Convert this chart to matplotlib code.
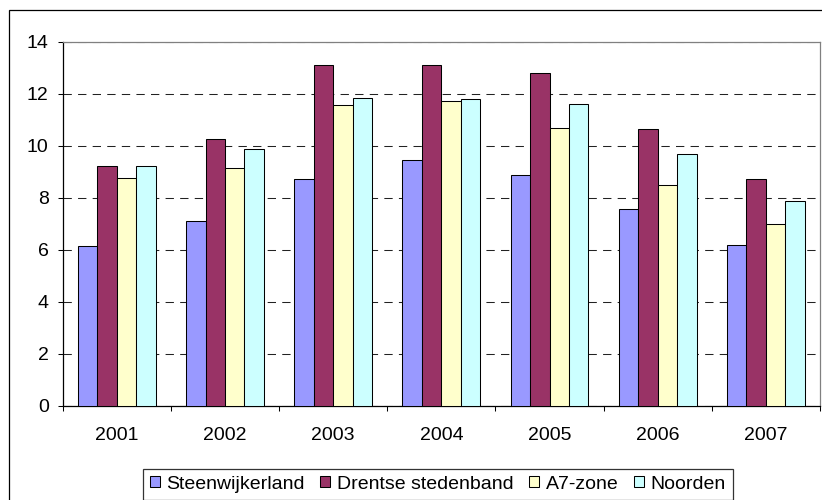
import numpy as np
import matplotlib
matplotlib.use("Agg")
import matplotlib.pyplot as plt
from matplotlib.patches import Rectangle

years = ["2001", "2002", "2003", "2004", "2005", "2006", "2007"]
series_names = ["Steenwijkerland", "Drentse stedenband", "A7-zone", "Noorden"]

steenwijkerland = [6.12, 7.10, 8.70, 9.44, 8.86, 7.57, 6.18]
drentse_stedenband = [9.21, 10.24, 13.09, 13.09, 12.81, 10.65, 8.70]
a7_zone = [8.75, 9.13, 11.55, 11.71, 10.68, 8.49, 6.98]
noorden = [9.21, 9.87, 11.83, 11.78, 11.62, 9.67, 7.88]

colors = ["#9999FF", "#993366", "#FFFFCC", "#CCFFFF"]
yticks = [0, 2, 4, 6, 8, 10, 12, 14]


def main():
    plt.rcParams["font.family"] = ["Liberation Sans", "DejaVu Sans"]
    fig = plt.figure(figsize=(8.22, 5.0), dpi=100)
    ax = fig.add_axes([62.7 / 822, 1 - 405.5 / 500, (820 - 62.7) / 822, (405.5 - 41.7) / 500])

    # outer chart frame, runs off the right and bottom edge
    fig.patches.append(Rectangle((9 / 822, -0.2), 1.2, 1 - 10 / 500 + 0.2,
                                 transform=fig.transFigure, fill=False,
                                 edgecolor="black", linewidth=0.9, zorder=0))

    x = np.arange(len(years))
    width = 0.18
    data = [steenwijkerland, drentse_stedenband, a7_zone, noorden]
    for i, (vals, name, col) in enumerate(zip(data, series_names, colors)):
        ax.bar(x + (i - 1.5) * width, vals, width, color=col, edgecolor="black",
               linewidth=0.75, label=name, zorder=3)

    ax.set_xlim(-0.5, len(years) - 0.5)
    ax.set_ylim(0, 14)
    ax.set_yticks(yticks)
    ax.set_yticklabels([str(v) for v in yticks])
    ax.set_xticks(x)
    ax.set_xticklabels(years)
    ax.set_xticks(np.arange(len(years) + 1) - 0.5, minor=True)

    ax.tick_params(axis="y", direction="out", length=3.6, width=0.75, pad=6.5, labelsize=14)
    ax.tick_params(axis="x", which="major", length=0, pad=15.5, labelsize=14)
    ax.tick_params(axis="x", which="minor", direction="out", length=3.6, width=0.75)

    ax.yaxis.grid(True, color="#222222", linewidth=0.75, linestyle=(0, (8, 6)), zorder=1)
    ax.set_axisbelow(True)

    for side in ["left", "bottom"]:
        ax.spines[side].set_color("black")
        ax.spines[side].set_linewidth(0.9)
    for side in ["top", "right"]:
        ax.spines[side].set_color("#808080")
        ax.spines[side].set_linewidth(0.9)

    leg = fig.legend(loc="upper left", bbox_to_anchor=(143 / 822, 1 - 469 / 500),
                     ncol=4, fontsize=14, frameon=True, fancybox=False,
                     handlelength=0.5, handleheight=0.5, handletextpad=0.35,
                     columnspacing=0.8, borderpad=0.35, borderaxespad=0)
    leg.get_frame().set_edgecolor("black")
    leg.get_frame().set_linewidth(0.9)

    fig.savefig("out.png", dpi=100)


if __name__ == "__main__":
    main()
